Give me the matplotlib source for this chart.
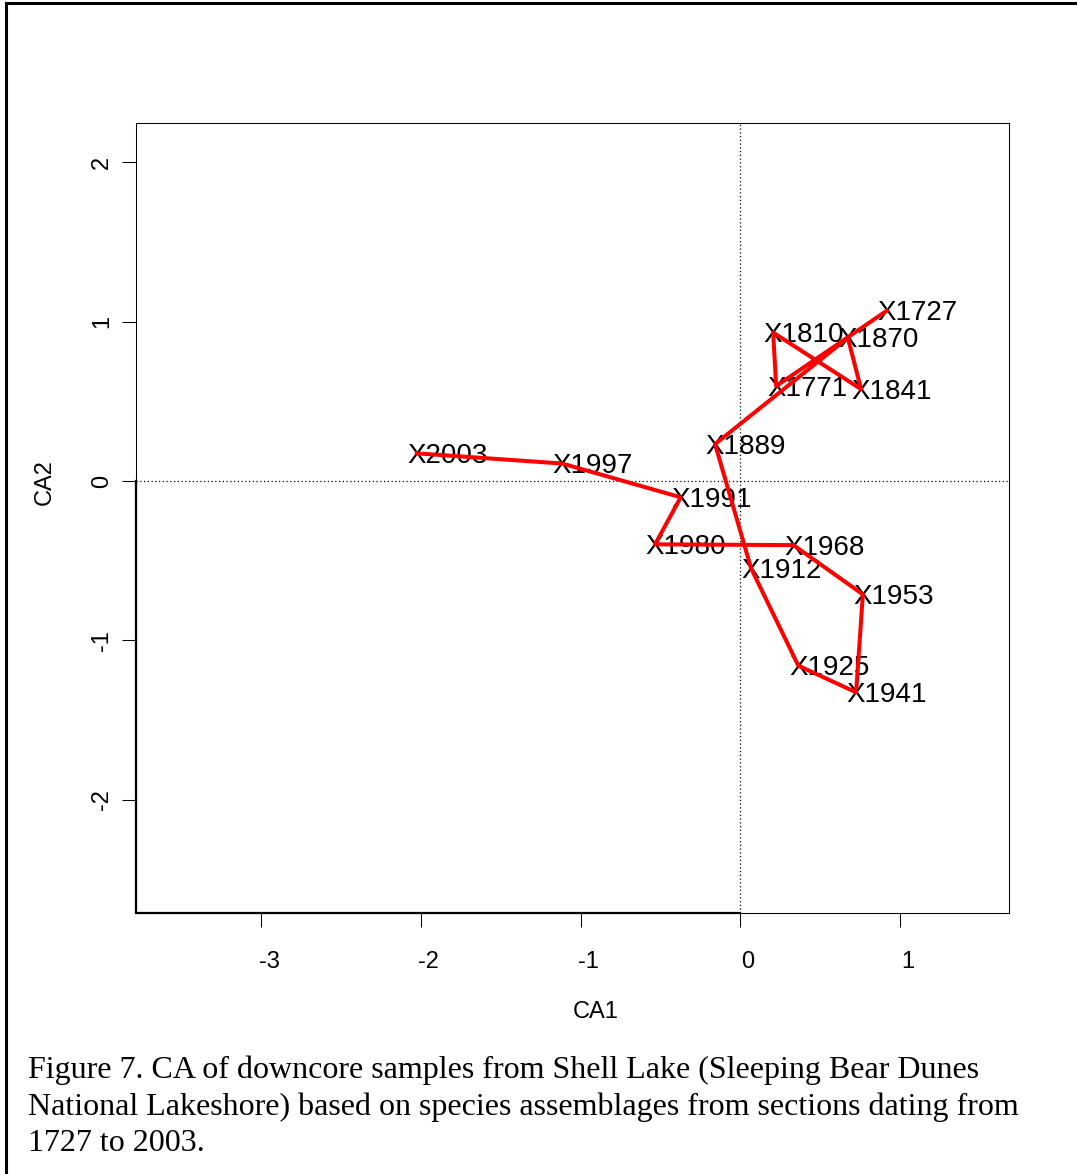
import matplotlib
matplotlib.use('Agg')
import matplotlib.pyplot as plt
import matplotlib.transforms as transforms
from matplotlib.lines import Line2D

# CA scores of the downcore samples, in core order
years = ['1727', '1771', '1810', '1841', '1870', '1889', '1912', '1925',
         '1941', '1953', '1968', '1980', '1991', '1997', '2003']
ca1 = [0.919, 0.226, 0.207, 0.758, 0.675, -0.157, 0.069, 0.365,
       0.727, 0.769, 0.334, -0.533, -0.372, -1.115, -2.026]
ca2 = [1.069, 0.596, 0.932, 0.577, 0.899, 0.232, -0.548, -1.159,
       -1.326, -0.711, -0.402, -0.397, -0.102, 0.110, 0.174]

xticks = [-3, -2, -1, 0, 1]
xtick_labels = ['-3', '-2', '-1', '0', '1']
yticks = [-2, -1, 0, 1, 2]
ytick_labels = ['-2', '-1', '0', '1', '2']

caption = ['Figure 7. CA of downcore samples from Shell Lake (Sleeping Bear Dunes',
           'National Lakeshore) based on species assemblages from sections dating from',
           '1727 to 2003.']

plt.rcParams['font.family'] = 'Liberation Sans'

fig = plt.figure(figsize=(10.77, 11.74), dpi=100)
ax = fig.add_axes([0.1263, 0.2223, 0.8106, 0.6729])

xmin, xmax = -3.785, 1.685
ymin, ymax = -2.711, 2.247
ax.set_xlim(xmin, xmax)
ax.set_ylim(ymin, ymax)

# dotted origin lines
ax.axhline(0, color='black', lw=0.9, ls=(0, (1, 2)), zorder=1)
ax.axvline(0, color='black', lw=0.9, ls=(0, (1, 2)), zorder=1)

# trajectory through time
ax.plot(ca1, ca2, color='red', lw=2.9, zorder=3)

for yr, x, y in zip(years, ca1, ca2):
    ax.annotate('X' + yr, (x, y), xytext=(-6.7, -1.8), textcoords='offset points',
                ha='left', va='center', fontsize=20, color='black', zorder=2)

# heavy black edge left over in the original plot
ax.plot([xmin, xmin, 0], [0, ymin, ymin], color='black', lw=1.6,
        clip_on=False, zorder=4, solid_joinstyle='miter')

for s in ax.spines.values():
    s.set_linewidth(0.75)

ax.set_xticks(xticks)
ax.set_xticklabels(xtick_labels, fontsize=17)
ax.set_yticks(yticks)
ax.set_yticklabels(ytick_labels, fontsize=17, rotation=90, va='center')
ax.tick_params(axis='both', direction='out', length=10, width=0.75)
ax.tick_params(axis='x', pad=17.5)
ax.tick_params(axis='y', pad=6.5)

offset = transforms.ScaledTranslation(0.08, 0, fig.dpi_scale_trans)
for lbl in ax.get_xticklabels():
    lbl.set_transform(lbl.get_transform() + offset)

ax.set_xlabel('CA1', fontsize=17)
ax.xaxis.set_label_coords(0.526, -0.125)
ax.xaxis.label.set_va('center')
ax.set_ylabel('CA2', fontsize=17)
ax.yaxis.set_label_coords(-0.104, 0.5456)
ax.yaxis.label.set_va('center')

# caption below the plot
for i, line in enumerate(caption):
    fig.text(28 / 1077, 1 - (1078 + i * 36.7) / 1174, line,
             family='Liberation Serif', fontsize=23, ha='left', va='baseline')

# page frame (left and top edges visible in the scan)
fig.add_artist(Line2D([6 / 1077, 6 / 1077, 1.0], [0.0, 1 - 3 / 1174, 1 - 3 / 1174],
                      transform=fig.transFigure, color='black', lw=2.2,
                      solid_joinstyle='miter'))

fig.savefig('out.png', dpi=100)
